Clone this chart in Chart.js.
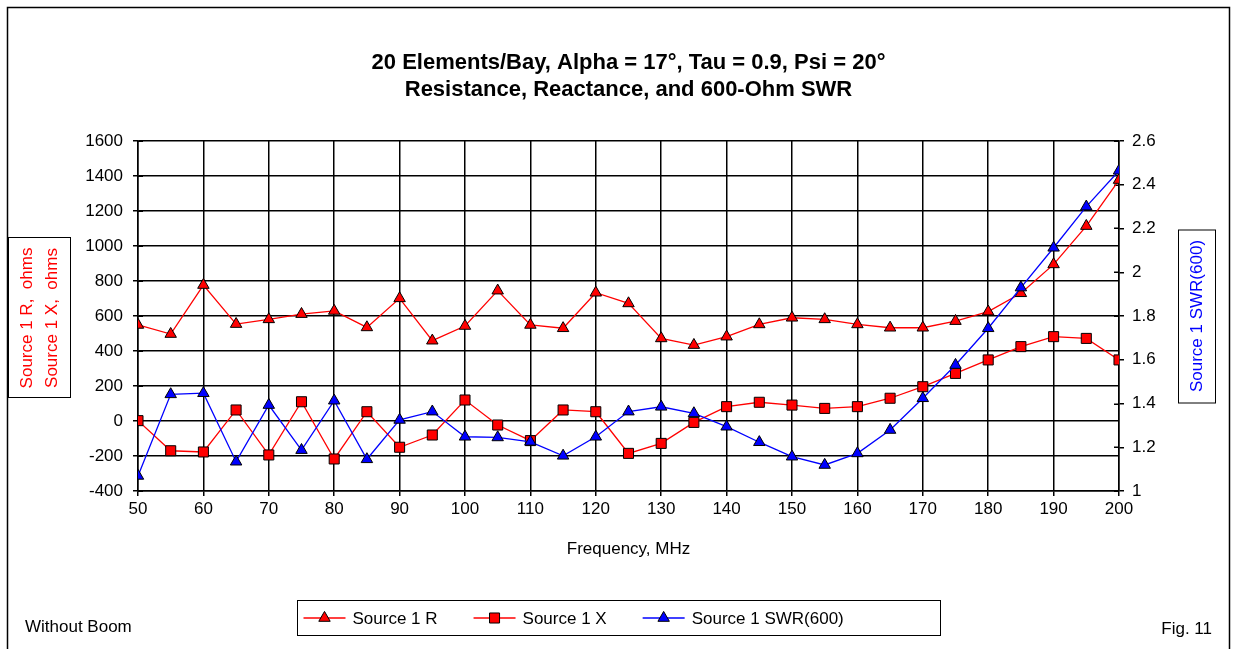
<!DOCTYPE html>
<html>
<head>
<meta charset="utf-8">
<script src="https://cdn.jsdelivr.net/npm/chart.js"></script>
<style>
  html, body { margin: 0; padding: 0; background: #ffffff; }
  #wrap { position: relative; width: 1236px; height: 649px; }
</style>
</head>
<body>
<div id="wrap"><canvas id="c" width="1236" height="649"></canvas></div>
<script>
// ---- data ----
const freqMHz = [50, 55, 60, 65, 70, 75, 80, 85, 90, 95, 100, 105, 110, 115, 120, 125, 130, 135, 140, 145, 150, 155, 160, 165, 170, 175, 180, 185, 190, 195, 200];
const sourceR = [549, 497, 777, 554, 581, 611, 629, 535, 701, 459, 543, 745, 549, 530, 733, 672, 472, 434, 482, 552, 590, 581, 552, 533, 533, 571, 625, 730, 895, 1114, 1377];
const sourceX = [2, -170, -177, 63, -194, 110, -217, 53, -150, -80, 120, -23, -112, 63, 53, -185, -128, -8, 82, 107, 91, 72, 82, 130, 196, 272, 349, 425, 482, 472, 349];
const swr600 = [1.069, 1.442, 1.447, 1.134, 1.393, 1.187, 1.413, 1.145, 1.325, 1.363, 1.248, 1.245, 1.225, 1.161, 1.248, 1.363, 1.385, 1.355, 1.294, 1.223, 1.157, 1.119, 1.172, 1.279, 1.424, 1.576, 1.744, 1.930, 2.112, 2.300, 2.464];

const xTicks = [50, 60, 70, 80, 90, 100, 110, 120, 130, 140, 150, 160, 170, 180, 190, 200];
const leftTicks = [-400, -200, 0, 200, 400, 600, 800, 1000, 1200, 1400, 1600];
const rightTicks = [1, 1.2, 1.4, 1.6, 1.8, 2, 2.2, 2.4, 2.6];
const rightTickLabels = ['1', '1.2', '1.4', '1.6', '1.8', '2', '2.2', '2.4', '2.6'];

const titleLines = ['20 Elements/Bay, Alpha = 17°, Tau = 0.9, Psi = 20°', 'Resistance, Reactance, and 600-Ohm SWR'];
const seriesNames = ['Source 1 R', 'Source 1 X', 'Source 1 SWR(600)'];
const leftAxisTitle = ['Source 1 R,  ohms', 'Source 1 X,  ohms'];
const rightAxisTitle = 'Source 1 SWR(600)';
const xAxisTitle = 'Frequency, MHz';
const noteLeft = 'Without Boom';
const noteRight = 'Fig. 11';

const FONT = '"Liberation Sans", Arial, sans-serif';
const RED = '#ff0000', BLUE = '#0000ff';
const TRI_R = 6.6, RECT_R = 7.1;

const pts = (ys) => freqMHz.map((f, i) => ({ x: f, y: ys[i] }));

function drawMarker(ctx, style, x, y, fill) {
  ctx.save();
  ctx.fillStyle = fill; ctx.strokeStyle = '#000'; ctx.lineWidth = 1;
  ctx.beginPath();
  if (style === 'triangle') {
    const r = TRI_R;
    ctx.moveTo(x, y - r);
    ctx.lineTo(x + r * Math.sin(2 * Math.PI / 3), y - r * Math.cos(2 * Math.PI / 3));
    ctx.lineTo(x + r * Math.sin(4 * Math.PI / 3), y - r * Math.cos(4 * Math.PI / 3));
    ctx.closePath();
  } else {
    const h = RECT_R * Math.SQRT1_2;
    ctx.rect(x - h, y - h, 2 * h, 2 * h);
  }
  ctx.fill(); ctx.stroke();
  ctx.restore();
}

const decorations = {
  id: 'decorations',
  beforeDatasetsDraw(chart) {
    // inner half of the axis tick marks (they cross the axis line)
    const ctx = chart.ctx;
    const s = chart.scales.y1;
    ctx.save();
    ctx.strokeStyle = '#000'; ctx.lineWidth = 1.5;
    rightTicks.forEach((v) => {
      const py = Math.round(s.getPixelForValue(v)) + 0.25;
      ctx.beginPath(); ctx.moveTo(s.left - 5, py); ctx.lineTo(s.left, py); ctx.stroke();
    });
    const l = chart.scales.y;
    leftTicks.forEach((v) => {
      const py = Math.round(l.getPixelForValue(v)) + 0.25;
      ctx.beginPath(); ctx.moveTo(l.right, py); ctx.lineTo(l.right + 5, py); ctx.stroke();
    });
    ctx.restore();
  },
  afterDraw(chart) {
    const ctx = chart.ctx;
    const ca = chart.chartArea;
    const midY = (ca.top + ca.bottom) / 2;
    ctx.save();
    // outer frame
    ctx.strokeStyle = '#000'; ctx.lineWidth = 1.5;
    ctx.beginPath();
    ctx.moveTo(7.5, 660); ctx.lineTo(7.5, 7.5); ctx.lineTo(1229.5, 7.5); ctx.lineTo(1229.5, 660);
    ctx.stroke();

    // left axis title box
    ctx.lineWidth = 1;
    ctx.strokeRect(8.5, midY - 78.5, 62, 160);
    ctx.fillStyle = RED; ctx.font = '17px ' + FONT;
    ctx.textAlign = 'center'; ctx.textBaseline = 'middle';
    [27, 52].forEach((x, i) => {
      ctx.save(); ctx.translate(x, midY + 2); ctx.rotate(-Math.PI / 2);
      ctx.fillText(leftAxisTitle[i], 0, 0); ctx.restore();
    });

    // right axis title box
    ctx.strokeStyle = '#000';
    ctx.strokeRect(1178.5, midY - 86, 37, 173);
    ctx.fillStyle = BLUE;
    ctx.save(); ctx.translate(1197, midY); ctx.rotate(-Math.PI / 2);
    ctx.fillText(rightAxisTitle, 0, 0); ctx.restore();

    // legend
    const lx0 = 297.5, ly0 = 600.5, lw = 643, lh = 35;
    ctx.strokeRect(lx0, ly0, lw, lh);
    const ly = ly0 + lh / 2;
    ctx.font = '17px ' + FONT; ctx.textAlign = 'left'; ctx.fillStyle = '#000';
    let x = lx0 + 6;
    const items = [
      { name: seriesNames[0], color: RED, style: 'triangle' },
      { name: seriesNames[1], color: RED, style: 'rect' },
      { name: seriesNames[2], color: BLUE, style: 'triangle' }
    ];
    items.forEach((it) => {
      ctx.strokeStyle = it.color; ctx.lineWidth = 1.5;
      ctx.beginPath(); ctx.moveTo(x, ly); ctx.lineTo(x + 42, ly); ctx.stroke();
      drawMarker(ctx, it.style, x + 21, ly, it.color);
      ctx.fillStyle = '#000';
      ctx.fillText(it.name, x + 49, ly + 1);
      x += 49 + ctx.measureText(it.name).width + 36;
    });

    // notes
    ctx.fillStyle = '#000'; ctx.font = '17px ' + FONT;
    ctx.textAlign = 'left';
    ctx.fillText(noteLeft, 25, 627);
    ctx.textAlign = 'right';
    ctx.fillText(noteRight, 1212, 629);
    ctx.restore();
  }
};

const chart = new Chart(document.getElementById('c'), {
  type: 'line',
  data: {
    datasets: [
      { label: seriesNames[0], data: pts(sourceR), yAxisID: 'y', order: 2,
        borderColor: RED, borderWidth: 1.3, backgroundColor: RED,
        pointStyle: 'triangle', pointRadius: TRI_R, pointBorderColor: '#000', pointBorderWidth: 1, pointBackgroundColor: RED, tension: 0 },
      { label: seriesNames[1], data: pts(sourceX), yAxisID: 'y', order: 1,
        borderColor: RED, borderWidth: 1.3, backgroundColor: RED,
        pointStyle: 'rect', pointRadius: RECT_R, pointBorderColor: '#000', pointBorderWidth: 1, pointBackgroundColor: RED, tension: 0 },
      { label: seriesNames[2], data: pts(swr600), yAxisID: 'y1', order: 0,
        borderColor: BLUE, borderWidth: 1.3, backgroundColor: BLUE,
        pointStyle: 'triangle', pointRadius: TRI_R, pointBorderColor: '#000', pointBorderWidth: 1, pointBackgroundColor: BLUE, tension: 0 }
    ]
  },
  options: {
    responsive: false,
    animation: false,
    devicePixelRatio: 1,
    layout: { autoPadding: false, padding: 0 },
    plugins: {
      legend: { display: false },
      tooltip: { enabled: false },
      title: {
        display: true, fullSize: false, text: titleLines, color: '#000',
        font: { family: FONT, size: 22, weight: 'bold', lineHeight: 27 / 22 },
        padding: { top: 49, bottom: 38 }
      }
    },
    scales: {
      x: {
        type: 'linear', min: 50, max: 200,
        afterBuildTicks: (s) => { s.ticks = xTicks.map(v => ({ value: v })); },
        afterFit: (s) => { s.height = 158; },
        ticks: { color: '#000', font: { family: FONT, size: 17 }, padding: 3, maxRotation: 0, autoSkip: false, callback: (v) => String(v) },
        grid: { color: '#000', lineWidth: 1.5, tickLength: 5 },
        border: { color: '#000', width: 1.5 },
        title: { display: true, text: xAxisTitle, color: '#000', font: { family: FONT, size: 17 }, padding: { top: 0, bottom: 89.8 } }
      },
      y: {
        position: 'left', min: -400, max: 1600,
        afterBuildTicks: (s) => { s.ticks = leftTicks.map(v => ({ value: v })); },
        afterFit: (s) => { s.width = 138; },
        ticks: { color: '#000', font: { family: FONT, size: 17 }, padding: 10, autoSkip: false, callback: (v) => String(v) },
        grid: { color: '#000', lineWidth: 1.5, tickLength: 5 },
        border: { color: '#000', width: 1.5 }
      },
      y1: {
        position: 'right', min: 1, max: 2.6,
        afterBuildTicks: (s) => { s.ticks = rightTicks.map(v => ({ value: v })); },
        afterFit: (s) => { s.width = 117; },
        ticks: { color: '#000', font: { family: FONT, size: 17 }, padding: 8, autoSkip: false,
          callback: (v) => { const i = rightTicks.indexOf(v); return i >= 0 ? rightTickLabels[i] : String(v); } },
        grid: { drawOnChartArea: false, color: '#000', lineWidth: 1.5, tickLength: 5 },
        border: { color: '#000', width: 1.5 }
      }
    }
  },
  plugins: [decorations]
});
</script>
</body>
</html>
